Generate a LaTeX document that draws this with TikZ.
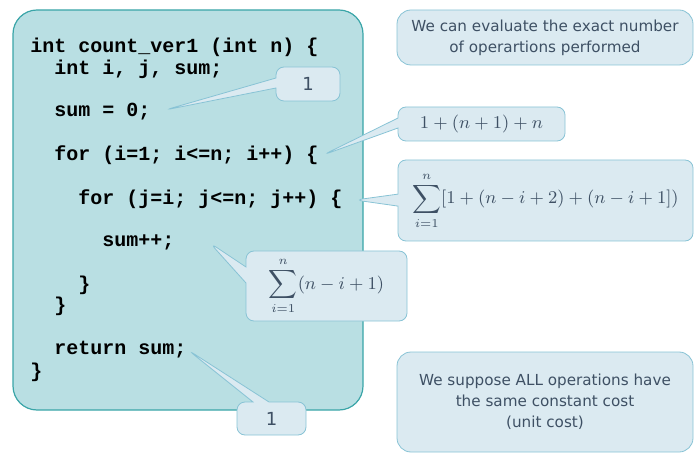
\documentclass[tikz,border=0pt]{standalone}
\usepackage[no-math]{fontspec}
\setmainfont{DejaVu Sans}
\setmonofont{Liberation Mono}
\usetikzlibrary{shapes.callouts, positioning}
\usepackage{xcolor}
\definecolor{panelfill}{HTML}{B9DFE3}
\definecolor{paneldraw}{HTML}{3AA5A8}
\definecolor{bubblefill}{HTML}{DBEAF1}
\definecolor{bubbledraw}{HTML}{88C3D5}
\definecolor{slate}{HTML}{3E5064}

\tikzset{
  codepanel/.style={draw=paneldraw, fill=panelfill, rounded corners=12pt, semithick},
  codeline/.style={anchor=west, inner sep=0pt, font=\ttfamily\bfseries\fontsize{10}{12}\selectfont},
  bubble/.style={rectangle callout, draw=bubbledraw, fill=bubblefill, rounded corners=4pt,
    text=slate, font=\fontsize{9}{11}\selectfont, inner sep=0pt},
  note/.style={draw=bubbledraw, fill=bubblefill, rounded corners=7pt, text=slate,
    align=center, font=\fontsize{7.6}{10.5}\selectfont, inner sep=0pt}
}

\begin{document}
\begin{tikzpicture}[x=0.5pt, y=-0.5pt]
\useasboundingbox (0,0) rectangle (699,458);

% Code panel
\node[codepanel, minimum width=175pt, minimum height=200pt] (panel) at (188,210) {};

% Code lines
\node[codeline] (head) at (30,47) {int count\_ver1 (int n) \{};
\node[codeline] (decl) at (54,69) {int i, j, sum;};
\node[codeline] (init) at (54,112) {sum = 0;};
\node[codeline] (outer) at (54,155) {for (i=1; i<=n; i++) \{};
\node[codeline] (inner) at (78,199) {for (j=i; j<=n; j++) \{};
\node[codeline] (incr) at (102,242) {sum++;};
\node[codeline] (closein) at (78,285) {\}};
\node[codeline] (closeout) at (54,306) {\}};
\node[codeline] (ret) at (54,350) {return sum;};
\node[codeline] (closefn) at (30,372) {\}};

% Pointer tips
\coordinate (tipinit) at (165,110);
\coordinate (tipouter) at (323,155);
\coordinate (tipinner) at (355,200);
\coordinate (tipincr) at (210,243);
\coordinate (tipret) at (188,350);

% Cost bubbles
\node[bubble, minimum width=32pt, minimum height=17pt, callout pointer width=5pt,
  callout absolute pointer={(tipinit)}] (oneinit) at (308,84) {1};
\node[bubble, minimum width=83.5pt, minimum height=17pt, callout pointer width=5pt,
  callout absolute pointer={(tipouter)}] (costouter) at (481.5,124) {$1+(n+1)+n$};
\node[bubble, minimum width=147.5pt, minimum height=40.5pt, callout pointer width=6pt,
  callout absolute pointer={(tipinner)}] (costinner) at (545.5,200.5)
  {$\displaystyle\sum_{i=1}^{n}[1+(n-i+2)+(n-i+1])$};
\node[bubble, minimum width=80.5pt, minimum height=35pt, callout pointer width=8pt,
  callout absolute pointer={(tipincr)}] (costincr) at (326.5,286)
  {$\displaystyle\sum_{i=1}^{n}(n-i+1)$};
\node[bubble, minimum width=34.5pt, minimum height=16.5pt, callout pointer width=8pt,
  callout absolute pointer={(tipret)}] (oneret) at (271.5,418.5) {1};

% Notes
\node[note, minimum width=148pt, minimum height=27.5pt] (evalnote) at (545,37.5)
  {We can evaluate the exact number\\of operartions performed};
\node[note, minimum width=148pt, minimum height=50pt] (unitnote) at (545,402)
  {We suppose ALL operations have\\the same constant cost\\(unit cost)};
\end{tikzpicture}
\end{document}
